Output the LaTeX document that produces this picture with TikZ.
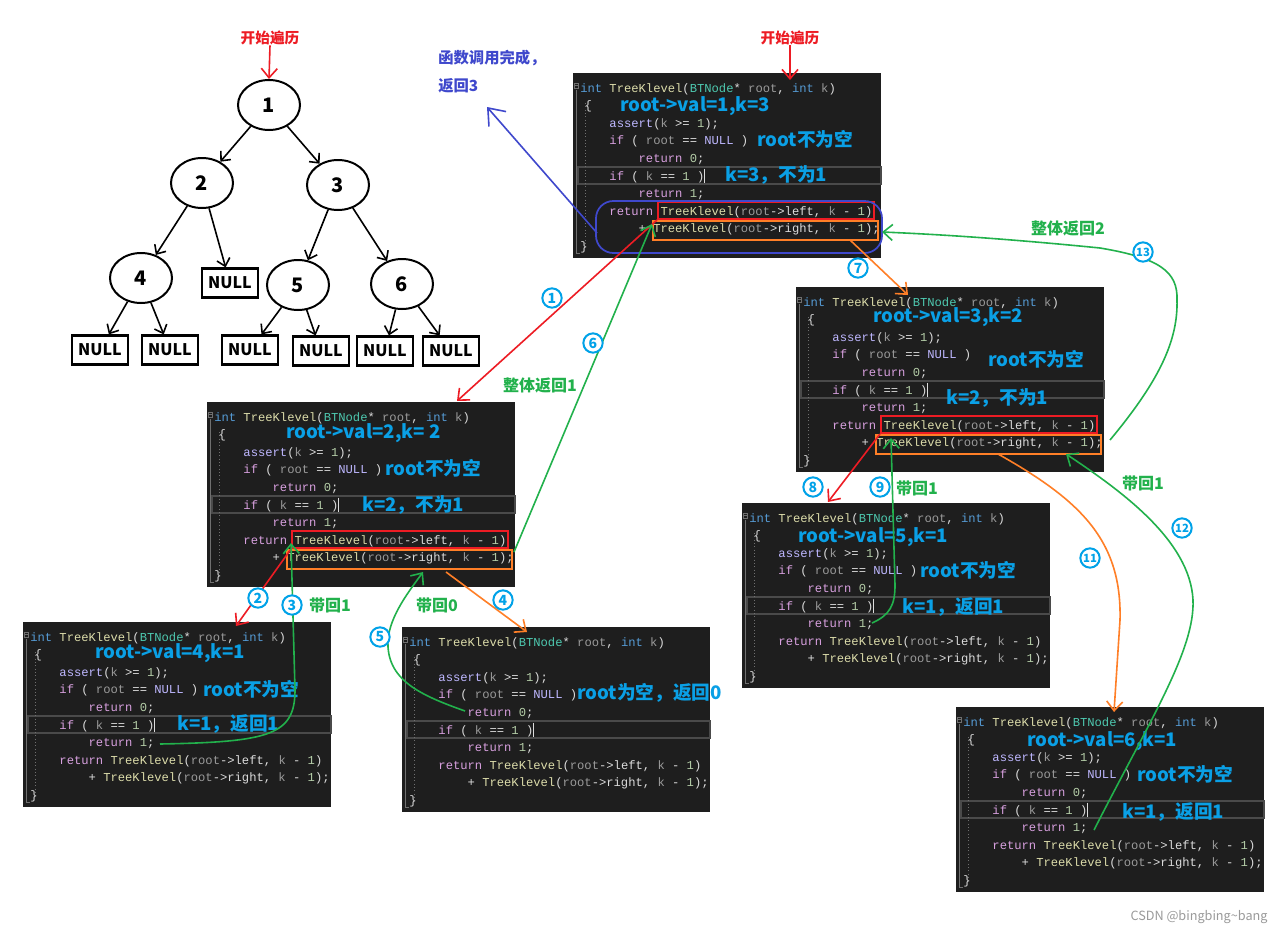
\documentclass[tikz,border=0pt]{standalone}
\usepackage{fontspec}
\setmainfont{Noto Sans CJK SC}
\newfontfamily\codefont{Liberation Mono}
\usetikzlibrary{shapes.geometric,arrows.meta}
\definecolor{codebgc}{HTML}{1E1E1E}
\definecolor{hlc}{HTML}{4A4A4A}
\definecolor{foldc}{HTML}{707070}
\definecolor{ckw}{HTML}{569CD6}
\definecolor{cfn}{HTML}{DCDCAA}
\definecolor{cty}{HTML}{4EC9B0}
\definecolor{cpa}{HTML}{9A9A9A}
\definecolor{cct}{HTML}{D8A0DF}
\definecolor{cma}{HTML}{BEB7FF}
\definecolor{cnu}{HTML}{B5CEA8}
\definecolor{cop}{HTML}{DCDCDC}
\definecolor{cred}{HTML}{ED1C24}
\definecolor{corange}{HTML}{FF7F27}
\definecolor{cgreen}{HTML}{22B14C}
\definecolor{cblue}{HTML}{00A2E8}
\definecolor{cann}{HTML}{0AA0E6}
\definecolor{cpurple}{HTML}{3F48CC}
\definecolor{cwm}{HTML}{9A9A9A}
\newcommand\codesize{\codefont\fontsize{9.125}{10}\selectfont}
\newcommand\cKw[1]{\textcolor{ckw}{#1}}
\newcommand\cFn[1]{\textcolor{cfn}{#1}}
\newcommand\cTy[1]{\textcolor{cty}{#1}}
\newcommand\cPa[1]{\textcolor{cpa}{#1}}
\newcommand\cCt[1]{\textcolor{cct}{#1}}
\newcommand\cMa[1]{\textcolor{cma}{#1}}
\newcommand\cNu[1]{\textcolor{cnu}{#1}}
\newcommand\cOp[1]{\textcolor{cop}{#1}}
\newcommand\codeblock[3]{%
\begin{scope}[shift={(#2,#3)}]
\fill[codebgc] (0,0) rectangle (308,185);
\node[sFrame, name=#1] at (154,92.5) {};
\draw[sHl] (5,94) rectangle (308,111);
\draw[sCaret] (131,95.5) -- (131,110);
\draw[sFold] (3,17) -- (3,180) -- (7,180);
\draw[sFold] (1,10) rectangle (5.5,15.5);
\draw[sFold] (1.8,12.75) -- (4.7,12.75);
\draw[sGuide] (12,30) -- (12,172);
\node[sCode, name=#1-l0] at (7,19) {\cKw{int} \cFn{TreeKlevel}\cOp{(}\cTy{BTNode}\cOp{*} \cPa{root}\cOp{,} \cKw{int} \cPa{k}\cOp{)}};
\node[sCode, name=#1-l1] at (11.4,36.6) {\cOp{\{}};
\node[sCode, name=#1-l2] at (36.2,54.2) {\cMa{assert}\cOp{(}\cPa{k} \cOp{>=} \cNu{1}\cOp{);}};
\node[sCode, name=#1-l3] at (36.2,71.8) {\cCt{if} \cOp{(} \cPa{root} \cOp{==} \cMa{NULL} \cOp{)}};
\node[sCode, name=#1-l4] at (65.4,89.4) {\cCt{return} \cNu{0}\cOp{;}};
\node[sCode, name=#1-l5] at (36.2,107) {\cCt{if} \cOp{(} \cPa{k} \cOp{==} \cNu{1} \cOp{)}};
\node[sCode, name=#1-l6] at (65.4,124.6) {\cCt{return} \cNu{1}\cOp{;}};
\node[sCode, name=#1-l7] at (36.2,142.2) {\cCt{return} \cFn{TreeKlevel}\cOp{(}\cPa{root}\cOp{->}\cOp{left}\cOp{,} \cPa{k} \cOp{-} \cNu{1}\cOp{)}};
\node[sCode, name=#1-l8] at (65.4,159.8) {\cOp{+} \cFn{TreeKlevel}\cOp{(}\cPa{root}\cOp{->}\cOp{right}\cOp{,} \cPa{k} \cOp{-} \cNu{1}\cOp{);}};
\node[sCode, name=#1-l9] at (7,177.4) {\cOp{\}}};
\end{scope}}
\newcommand\callboxes[3]{%
\begin{scope}[shift={(#2,#3)}]
\node[sRbox, name=#1red] at (193,137.5) {};
\node[sObox, name=#1orange] at (192.5,157.5) {};
\end{scope}}
\begin{document}
\begin{tikzpicture}[x=0.75pt,y=-0.75pt,
 sFrame/.style={inner sep=0, minimum width=231pt, minimum height=138.75pt},
 sHl/.style={draw=hlc, line width=0.8pt},
 sCaret/.style={draw=cop, line width=0.6pt},
 sFold/.style={draw=foldc, line width=0.6pt},
 sGuide/.style={draw=foldc, line width=0.5pt, dotted},
 sCode/.style={anchor=base west, inner sep=0, font=\codesize},
 sRbox/.style={draw=cred, line width=1.5pt, minimum width=162pt, minimum height=12.75pt, inner sep=0},
 sObox/.style={draw=corange, line width=1.5pt, minimum width=168.75pt, minimum height=14.25pt, inner sep=0},
 sAnn/.style={anchor=west, inner sep=0, text=cann, font=\bfseries\fontsize{14}{14}\selectfont},
 sGlab/.style={inner sep=0, text=cgreen, font=\bfseries\fontsize{12}{12}\selectfont},
 sCirc/.style={circle, draw=cblue, line width=1.5pt, fill=white, minimum size=14.5pt, inner sep=0, text=cblue, font=\bfseries\fontsize{10.5}{10.5}\selectfont},
 sCircTwo/.style={sCirc, font=\bfseries\fontsize{8.5}{8.5}\selectfont},
 sTnode/.style={ellipse, draw, line width=1.5pt, minimum width=46.5pt, minimum height=37.5pt, inner sep=0, font=\bfseries\fontsize{15}{15}\selectfont},
 sNbox/.style={draw, line width=1.6pt, minimum width=42pt, minimum height=21.75pt, inner sep=0, font=\bfseries\fontsize{12}{12}\selectfont},
 sTarrow/.style={line width=1.2pt, -{Straight Barb[length=5.5pt,width=10pt]}},
 sCarrow/.style={line width=1.2pt, -{Straight Barb[length=7pt,width=12pt]}},
 sBigarrow/.style={line width=1.2pt, -{Straight Barb[length=11pt,width=17pt]}},
 sRtext/.style={inner sep=0, text=cred, font=\bfseries\fontsize{11}{11}\selectfont},
 sPtext/.style={inner sep=0, anchor=west, text=cpurple, font=\bfseries\fontsize{11.5}{11.5}\selectfont}
]
\useasboundingbox (0,0) rectangle (1280,931);
\fill[white] (0,0) rectangle (1280,931);

% ---------------- tree ----------------
\node[sTnode] (n1) at (269,105) {1};
\node[sTnode] (n2) at (202,183) {2};
\node[sTnode] (n3) at (338,185) {3};
\node[sTnode] (n4) at (141,278) {4};
\node[sTnode] (n5) at (298,285) {5};
\node[sTnode] (n6) at (402,284) {6};
\node[sNbox] (u0) at (230,283) {NULL};
\node[sNbox] (u1) at (100,350) {NULL};
\node[sNbox] (u2) at (170,350) {NULL};
\node[sNbox] (u3) at (250,350) {NULL};
\node[sNbox] (u4) at (321,351) {NULL};
\node[sNbox] (u5) at (385,351) {NULL};
\node[sNbox] (u6) at (451,351) {NULL};
\draw[sTarrow] (n1) -- (n2);
\draw[sTarrow] (n1) -- (n3);
\draw[sTarrow] (n2) -- (n4);
\draw[sTarrow] (n2) -- (u0);
\draw[sTarrow] (n3) -- (n5);
\draw[sTarrow] (n3) -- (n6);
\draw[sTarrow] (n4) -- (u1);
\draw[sTarrow] (n4) -- (u2);
\draw[sTarrow] (n5) -- (u3);
\draw[sTarrow] (n5) -- (u4);
\draw[sTarrow] (n6) -- (u5);
\draw[sTarrow] (n6) -- (u6);
\node[sRtext] (start1) at (270,38) {开始遍历};
\draw[sCarrow, cred] (start1.south) -- (n1.north);

% ---------------- code blocks ----------------
\codeblock{A}{573}{73}
\codeblock{B}{207}{402}
\codeblock{C}{796}{287}
\codeblock{D}{23}{622}
\codeblock{E}{402}{627}
\codeblock{F}{742}{503}
\codeblock{G}{956}{707}
\callboxes{A}{573}{73}
\callboxes{B}{207}{402}
\callboxes{C}{796}{287}

% annotations
\node[sAnn] (aA1) at (620,106) {root->val=1,k=3};
\node[sAnn] (aA2) at (757,139) {root不为空};
\node[sAnn] (aA3) at (725,175) {k=3，不为1};
\node[sAnn] (aB1) at (286,433) {root->val=2,k= 2};
\node[sAnn] (aB2) at (385,468) {root不为空};
\node[sAnn] (aB3) at (362,505) {k=2，不为1};
\node[sAnn] (aC1) at (873,317) {root->val=3,k=2};
\node[sAnn] (aC2) at (988,359) {root不为空};
\node[sAnn] (aC3) at (946,398) {k=2，不为1};
\node[sAnn] (aD1) at (95,653) {root->val=4,k=1};
\node[sAnn] (aD2) at (203,689) {root不为空};
\node[sAnn] (aD3) at (177,724) {k=1，返回1};
\node[sAnn] (aE2) at (577,693) {root为空，返回0};
\node[sAnn] (aF1) at (798,537) {root->val=5,k=1};
\node[sAnn] (aF2) at (920,570) {root不为空};
\node[sAnn] (aF3) at (902,607) {k=1，返回1};
\node[sAnn] (aG1) at (1027,741) {root->val=6,k=1};
\node[sAnn] (aG2) at (1137,774) {root不为空};
\node[sAnn] (aG3) at (1122,812) {k=1，返回1};

% blue frame and arrow
\node[draw=cpurple, line width=1.3pt, rounded corners=13pt, minimum width=214.5pt, minimum height=39pt, inner sep=0] (Aret) at (739,227) {};
\coordinate (bls) at (597,233);
\coordinate (ble) at (487,107);
\draw[sBigarrow, cpurple] (bls) -- (ble);
\node[sPtext] (ptext1) at (438,58) {函数调用完成，};
\node[sPtext] (ptext2) at (438,86) {返回3};

% top start label for A
\node[sRtext] (start2) at (790,38) {开始遍历};
\coordinate (s2e) at (790,80);
\draw[sCarrow, cred] (start2.south) -- (s2e);

% ---------------- connectors ----------------
\coordinate (c1e) at (457,401);
\coordinate (c2e) at (236,626);
\coordinate (c3s) at (160,744);
\coordinate (c3e) at (291,543);
\coordinate (c4s) at (446,572);
\coordinate (c4e) at (527,632);
\coordinate (c5s) at (465,711);
\coordinate (c5e) at (423,572);
\coordinate (c6s) at (514,552);
\coordinate (c6e) at (652,224);
\coordinate (c7s) at (850,240);
\coordinate (c7e) at (908,295);
\coordinate (c8e) at (828,502);
\coordinate (c9s) at (872,623);
\coordinate (c9e) at (891,438);
\coordinate (c11s) at (998,454);
\coordinate (c11e) at (1114,712);
\coordinate (c12s) at (1094,830);
\coordinate (c12e) at (1066,454);
\coordinate (c13s) at (1110,440);
\coordinate (c13e) at (882,232);

\draw[sCarrow, cred] (Ared.south west) -- (c1e);
\draw[sCarrow, cred] (Bred.south west) -- (c2e);
\draw[sCarrow, cred] (Cred.south west) -- (c8e);
\draw[sCarrow, corange] (c4s) -- (c4e);
\draw[sCarrow, corange] (c7s) -- (c7e);
\draw[sCarrow, corange] (c11s) .. controls (1080,500) and (1122,540) .. (1120,620) -- (c11e);
\draw[sCarrow, cgreen] (c6s) -- (c6e);
\draw[sCarrow, cgreen] (c3s) .. controls (270,742) and (295,735) .. (295,690) -- (c3e);
\draw[sCarrow, cgreen] (c5s) .. controls (420,695) and (386,680) .. (388,640) .. controls (390,615) and (410,590) .. (c5e);
\draw[sCarrow, cgreen] (c9s) .. controls (890,615) and (895,605) .. (895,585) -- (c9e);
\draw[sCarrow, cgreen] (c12s) .. controls (1150,720) and (1195,650) .. (1193,600) .. controls (1190,540) and (1120,490) .. (c12e);
\draw[sCarrow, cgreen] (c13s) .. controls (1160,380) and (1178,340) .. (1177,300) .. controls (1178,272) and (1160,258) .. (1100,248) .. controls (1000,238) and (930,234) .. (c13e);

% circled step numbers
\node[sCirc] (k1) at (552,298) {1};
\node[sCirc] (k2) at (258,598) {2};
\node[sCirc] (k3) at (292,605) {3};
\node[sCirc] (k4) at (503,600) {4};
\node[sCirc] (k5) at (380,637) {5};
\node[sCirc] (k6) at (593,343) {6};
\node[sCirc] (k7) at (858,268) {7};
\node[sCirc] (k8) at (813,487) {8};
\node[sCirc] (k9) at (880,487) {9};
\node[sCircTwo] (k11) at (1090,558) {11};
\node[sCircTwo] (k12) at (1182,528) {12};
\node[sCircTwo] (k13) at (1143,252) {13};

% green labels
\node[sGlab] (g1) at (540,385) {整体返回1};
\node[sGlab] (g3) at (330,605) {带回1};
\node[sGlab] (g5) at (437,605) {带回0};
\node[sGlab] (g9) at (917,488) {带回1};
\node[sGlab] (g12) at (1143,483) {带回1};
\node[sGlab] (g13) at (1068,228) {整体返回2};

% watermark
\node[inner sep=0, text=cwm, font=\fontsize{9.5}{9.5}\selectfont] (wm) at (1199,917) {CSDN @bingbing\textasciitilde bang};
\end{tikzpicture}
\end{document}
